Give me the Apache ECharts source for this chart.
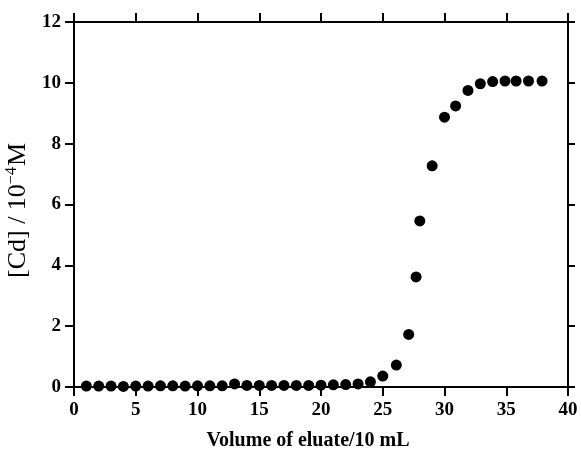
<!DOCTYPE html>
<html>
<head>
<meta charset="utf-8">
<script src="https://cdn.jsdelivr.net/npm/echarts@6/dist/echarts.min.js"></script>
<style>
  html, body { margin: 0; padding: 0; background: #fff; }
  #main { width: 581px; height: 456px; }
</style>
</head>
<body>
<div id="main"></div>
<script>
// volume of eluate (x 10 mL) and [Cd] (x 10^-4 M)
let volume = [1, 2, 3, 4, 5, 6, 7, 8, 9, 10, 11, 12, 13, 14, 15, 16, 17, 18, 19, 20,
    21, 22, 23, 24, 25, 26.1, 27.1, 27.7, 28, 29, 30, 30.9, 31.9, 32.9, 33.9, 34.9, 35.8, 36.8, 37.9];
let cd = [0.03, 0.03, 0.03, 0.02, 0.03, 0.03, 0.04, 0.04, 0.03, 0.04, 0.04, 0.04, 0.1, 0.05, 0.05, 0.05, 0.05, 0.05, 0.05, 0.06,
    0.07, 0.08, 0.1, 0.17, 0.36, 0.72, 1.73, 3.62, 5.46, 7.27, 8.87, 9.24, 9.75, 9.97, 10.04, 10.06, 10.06, 10.06, 10.06];

let xTicks = { min: 0, max: 40, interval: 5 };
let yTicks = { min: 0, max: 12, interval: 2 };

let points = [];
for (let i = 0; i < volume.length; i++) {
    points.push([volume[i], cd[i]]);
}

let chart = echarts.init(document.getElementById('main'));
let font = '"Liberation Serif", "DejaVu Serif", serif';
let lineStyle = { color: '#000', width: 2 };

let option = {
    backgroundColor: '#fff',
    animation: false,
    grid: { left: 74, right: 13, top: 22, bottom: 69, outerBoundsMode: 'none' },
    xAxis: [{
        type: 'value',
        min: xTicks.min, max: xTicks.max, interval: xTicks.interval,
        name: 'Volume of eluate/10 mL',
        nameLocation: 'middle',
        nameGap: 44,
        nameTextStyle: { fontFamily: font, fontSize: 20, fontWeight: 'bold', color: '#000', padding: [0, 26, 0, 0] },
        axisLine: { show: true, lineStyle: lineStyle, onZero: false },
        axisTick: { show: true, length: 9, lineStyle: lineStyle },
        axisLabel: { margin: 14, fontFamily: font, fontSize: 19, fontWeight: 'bold', color: '#000' },
        splitLine: { show: false }
    }, {
        type: 'value', position: 'top',
        min: xTicks.min, max: xTicks.max, interval: xTicks.interval,
        axisLine: { show: true, lineStyle: lineStyle, onZero: false },
        axisTick: { show: true, length: 9, lineStyle: lineStyle },
        axisLabel: { show: false },
        splitLine: { show: false }
    }],
    yAxis: [{
        type: 'value',
        min: yTicks.min, max: yTicks.max, interval: yTicks.interval,
        name: '{a|[Cd] / 10}{s|−4}{a|M}',
        nameLocation: 'middle',
        nameRotate: 90,
        nameGap: 42,
        nameTextStyle: {
            padding: [0, 12, 0, 0],
            rich: {
                a: { fontFamily: font, fontSize: 26, color: '#000' },
                s: { fontFamily: font, fontSize: 16, color: '#000', padding: [0, 1, 12, 0] }
            }
        },
        axisLine: { show: true, lineStyle: lineStyle, onZero: false },
        axisTick: { show: true, length: 9, lineStyle: lineStyle },
        axisLabel: { margin: 13, fontFamily: font, fontSize: 19, fontWeight: 'bold', color: '#000' },
        splitLine: { show: false }
    }, {
        type: 'value', position: 'right',
        min: yTicks.min, max: yTicks.max, interval: yTicks.interval,
        axisLine: { show: true, lineStyle: lineStyle, onZero: false },
        axisTick: { show: true, length: 7, lineStyle: lineStyle },
        axisLabel: { show: false },
        splitLine: { show: false }
    }],
    series: [{
        type: 'scatter',
        data: points,
        symbol: 'circle',
        symbolSize: 11,
        itemStyle: { color: '#000', opacity: 1 }
    }]
};

chart.setOption(option);
</script>
</body>
</html>
